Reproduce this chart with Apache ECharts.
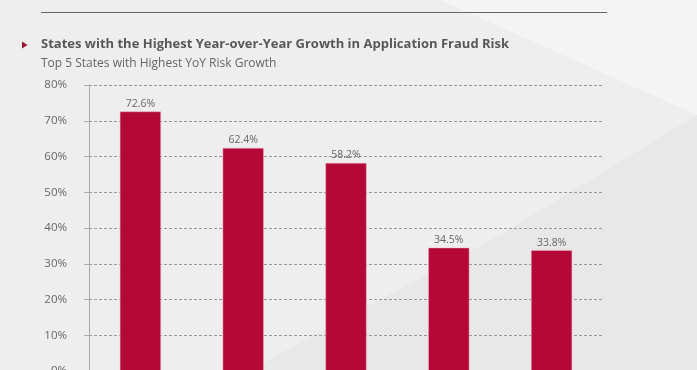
<!DOCTYPE html>
<html><head><meta charset="utf-8">
<script src="https://cdn.jsdelivr.net/npm/echarts@6/dist/echarts.min.js"></script>
<style>html,body{margin:0;padding:0;background:#eeeeee}#c{width:697px;height:370px}</style>
</head><body><div id="c"></div>
<script>
const categories = ["State A", "State B", "State C", "State D", "State E"];
const growth = [72.6, 62.4, 58.2, 34.5, 33.8];
const yTicks = [0, 10, 20, 30, 40, 50, 60, 70, 80];
const titleText = "States with the Highest Year-over-Year Growth in Application Fraud Risk";
const subText = "Top 5 States with Highest YoY Risk Growth";

const chart = echarts.init(document.getElementById('c'));
chart.setOption({
  backgroundColor: '#eeeeee',
  animation: false,
  textStyle: { fontFamily: '"Open Sans", sans-serif' },
  graphic: [
    { type: 'polygon', silent: true, z: -10, shape: { points: [[440, 0], [697, 0], [697, 115]] }, style: { fill: '#f4f4f4' } },
    { type: 'polygon', silent: true, z: -10, shape: { points: [[697, 115], [697, 370], [250, 370], [500, 235]] }, style: { fill: '#e8e8e8' } },
    { type: 'line', silent: true, shape: { x1: 41, y1: 12.5, x2: 607, y2: 12.5 }, style: { stroke: '#666', lineWidth: 1 } },
    { type: 'polygon', silent: true, shape: { points: [[22, 41.5], [22, 48.5], [27.5, 45]] }, style: { fill: '#9e1530' } }
  ],
  title: [
    { text: titleText, left: 36, top: 32.5, padding: 5, textStyle: { fontSize: 13, fontWeight: 'bold', color: '#585858', fontFamily: '"Open Sans", sans-serif' } },
    { text: subText, left: 36, top: 52.5, padding: 5, textStyle: { fontSize: 12, fontWeight: 'normal', color: '#666', fontFamily: '"Open Sans", sans-serif' } }
  ],
  grid: { left: 89, right: 94, top: 85, height: 286, outerBoundsMode: 'none', containLabel: false },
  xAxis: {
    type: 'category', data: categories,
    axisLine: { show: false }, axisTick: { show: false },
    axisLabel: { color: '#666', fontSize: 11 }
  },
  yAxis: {
    type: 'value', min: 0, max: 80, interval: 10,
    axisLine: { show: true, lineStyle: { color: '#aaa', width: 1 } },
    axisTick: { show: true, length: 5, lineStyle: { color: '#aaa' } },
    axisLabel: { color: '#666', fontSize: 11.5, margin: 22, formatter: v => yTicks.includes(v) ? v + '%' : '' },
    splitLine: { show: true, lineStyle: { color: '#999', type: [3, 2], width: 1 } }
  },
  series: [{
    type: 'bar', data: growth, barWidth: '40%',
    itemStyle: { color: '#b30838', borderColor: '#f3b5c3', borderWidth: 0.5 },
    label: { show: true, position: 'top', distance: 2, color: '#666', fontSize: 10.5, formatter: p => p.value.toFixed(1) + '%' }
  }]
});
</script></body></html>
